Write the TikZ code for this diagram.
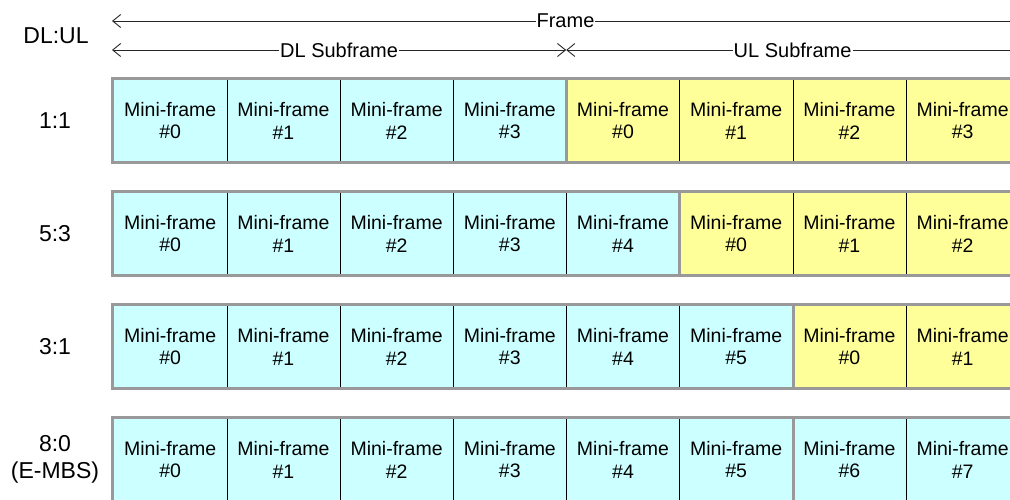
\documentclass[tikz,border=0pt]{standalone}
\usepackage{fontspec}
\setmainfont{Liberation Sans}
\usetikzlibrary{arrows.meta}
\definecolor{dlcol}{HTML}{CCFFFF}
\definecolor{ulcol}{HTML}{FFFF99}
\definecolor{framegray}{HTML}{999999}
\tikzset{
  cell/.style={minimum width=113.2pt, minimum height=81pt, inner sep=0pt, align=center,
    font=\fontsize{19.5}{22.5}\selectfont, anchor=north west},
  ratio/.style={font=\fontsize{23}{27}\selectfont, align=center, inner sep=0pt},
  span/.style={draw=black!85, line width=0.9pt,
    {Straight Barb[length=8pt,width=13pt]}-{Straight Barb[length=8pt,width=13pt]}},
  spanlabel/.style={fill=white, inner sep=1pt, font=\fontsize{20}{24}\selectfont},
  divider/.style={line width=1pt, black},
  bigdiv/.style={line width=3pt, framegray},
  outline/.style={line width=3pt, framegray}
}
\begin{document}
\begin{tikzpicture}[x=1pt,y=-1pt]
\useasboundingbox (0,0) rectangle (1010,500);
\clip (0,0) rectangle (1010,500);
\fill[white] (0,0) rectangle (1010,500);

% header
\node[ratio] (hdr) at (56,36) {DL:UL};
\coordinate (fL) at (112,21);
\coordinate (fR) at (1019,21);
\coordinate (sL) at (112,50);
\coordinate (sM) at (566.2,50);
\coordinate (sR) at (1019,50);
\draw[span] (fL) -- node[spanlabel] (frm) {Frame} (fR);
\draw[span] (sL) -- node[spanlabel] (dls) {DL Subframe} (sM);
\draw[span] (sM) -- node[spanlabel] (uls) {UL Subframe} (sR);

\foreach \r/\n/\g/\lab in {0/4/4/{1:1}, 1/5/5/{5:3}, 2/6/6/{3:1}, 3/8/6/{8:0\\(E-MBS)}} {
  \pgfmathsetmacro\ytop{80+113*\r}
  \pgfmathsetmacro\ymid{120.5+113*\r}
  \node[ratio] (lab\r) at (55,\ymid) {\lab};
  \foreach \i in {0,...,7} {
    \pgfmathtruncatemacro\k{\i<\n ? \i : \i-\n}
    \ifnum\i<\n \def\fc{dlcol}\else\def\fc{ulcol}\fi
    \node[cell, fill=\fc] (c\r-\i) at ({113.4+113.2*\i}, \ytop) {Mini-frame\\\#\k};
  }
  \foreach \i in {1,...,7} {
    \pgfmathtruncatemacro\j{\i-1}
    \ifnum\i=\g
      \draw[bigdiv] (c\r-\j.north east) -- (c\r-\j.south east);
    \else
      \draw[divider] (c\r-\j.north east) -- (c\r-\j.south east);
    \fi
  }
  \draw[outline] (112.5,{78.5+113*\r}) rectangle (1040,{162.5+113*\r});
}
\end{tikzpicture}
\end{document}
